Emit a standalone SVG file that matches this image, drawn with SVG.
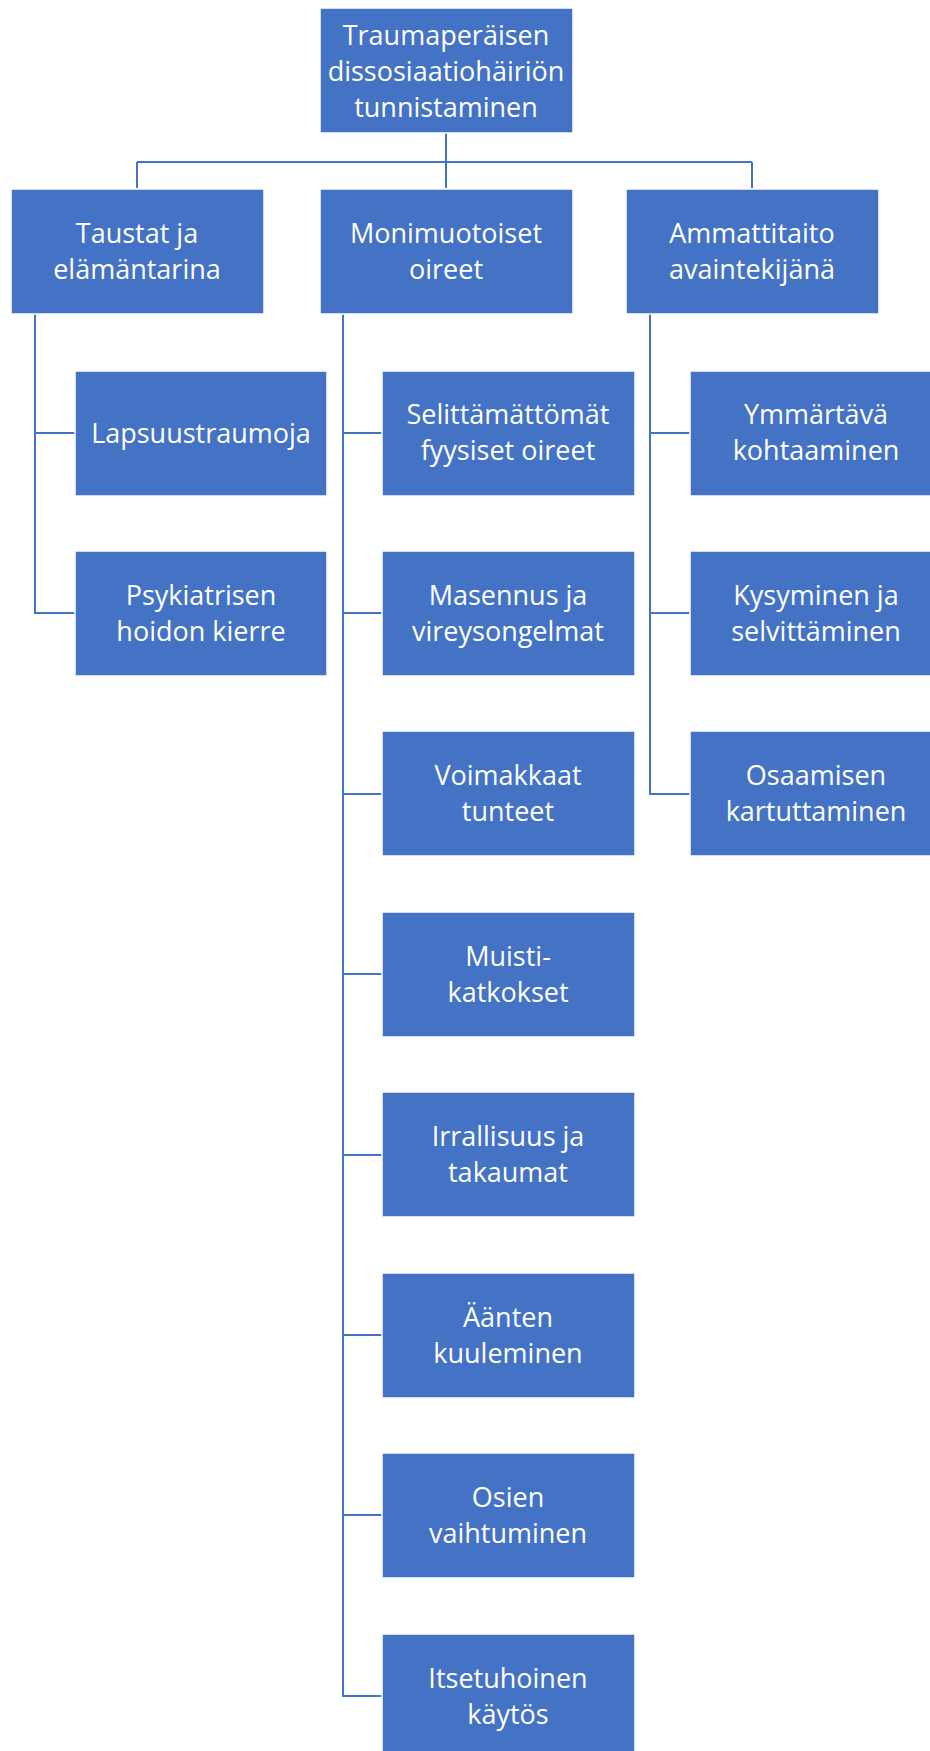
<svg xmlns="http://www.w3.org/2000/svg" width="930" height="1751" viewBox="0 0 930 1751">
<style>
.b{fill:#4472C4;stroke:#ffffff;stroke-width:1.5}
.t{font-family:"Open Sans",sans-serif;font-size:27px;fill:#ffffff;text-anchor:middle}
.c{fill:none;stroke:#4472C4;stroke-width:2}
</style>
<rect width="930" height="1751" fill="#ffffff"/>
<g id="connectors">
<path class="c" d="M446 133V188M137 162H752M137 162V188M752 162V188"/>
<path class="c" d="M35 314V613H75M35 433H75"/>
<path class="c" d="M343 314V1696H382M343 433H382M343 613H382M343 794H382M343 974H382M343 1155H382M343 1335H382M343 1515H382"/>
<path class="c" d="M650 314V794H690M650 433H690M650 613H690"/>
</g>
<g id="root"><rect class="b" x="320" y="8" width="253" height="125"/><text class="t"><tspan x="446" y="45">Traumaperäisen</tspan><tspan x="446" y="81">dissosiaatiohäiriön</tspan><tspan x="446" y="117">tunnistaminen</tspan></text></g>
<g id="taustat"><rect class="b" x="11" y="189" width="253" height="125"/><text class="t"><tspan x="137" y="243">Taustat ja</tspan><tspan x="137" y="279">elämäntarina</tspan></text></g>
<g id="monimuotoiset"><rect class="b" x="320" y="189" width="253" height="125"/><text class="t"><tspan x="446" y="243">Monimuotoiset</tspan><tspan x="446" y="279">oireet</tspan></text></g>
<g id="ammattitaito"><rect class="b" x="626" y="189" width="253" height="125"/><text class="t"><tspan x="752" y="243">Ammattitaito</tspan><tspan x="752" y="279">avaintekijänä</tspan></text></g>
<g id="lapsuus"><rect class="b" x="75" y="371" width="252" height="125"/><text class="t" x="201" y="443">Lapsuustraumoja</text></g>
<g id="psykiatrisen"><rect class="b" x="75" y="551" width="252" height="125"/><text class="t"><tspan x="201" y="605">Psykiatrisen</tspan><tspan x="201" y="641">hoidon kierre</tspan></text></g>
<g id="selittamattomat"><rect class="b" x="382" y="371" width="253" height="125"/><text class="t"><tspan x="508" y="424">Selittämättömät</tspan><tspan x="508" y="460">fyysiset oireet</tspan></text></g>
<g id="masennus"><rect class="b" x="382" y="551" width="253" height="125"/><text class="t"><tspan x="508" y="605">Masennus ja</tspan><tspan x="508" y="641">vireysongelmat</tspan></text></g>
<g id="voimakkaat"><rect class="b" x="382" y="731" width="253" height="125"/><text class="t"><tspan x="508" y="785">Voimakkaat</tspan><tspan x="508" y="821">tunteet</tspan></text></g>
<g id="muisti"><rect class="b" x="382" y="912" width="253" height="125"/><text class="t"><tspan x="508" y="966">Muisti-</tspan><tspan x="508" y="1002">katkokset</tspan></text></g>
<g id="irrallisuus"><rect class="b" x="382" y="1092" width="253" height="125"/><text class="t"><tspan x="508" y="1146">Irrallisuus ja</tspan><tspan x="508" y="1182">takaumat</tspan></text></g>
<g id="aanten"><rect class="b" x="382" y="1273" width="253" height="125"/><text class="t"><tspan x="508" y="1327">Äänten</tspan><tspan x="508" y="1363">kuuleminen</tspan></text></g>
<g id="osien"><rect class="b" x="382" y="1453" width="253" height="125"/><text class="t"><tspan x="508" y="1507">Osien</tspan><tspan x="508" y="1543">vaihtuminen</tspan></text></g>
<g id="itsetuhoinen"><rect class="b" x="382" y="1634" width="253" height="125"/><text class="t"><tspan x="508" y="1688">Itsetuhoinen</tspan><tspan x="508" y="1724">käytös</tspan></text></g>
<g id="ymmartava"><rect class="b" x="690" y="371" width="253" height="125"/><text class="t"><tspan x="816" y="424">Ymmärtävä</tspan><tspan x="816" y="460">kohtaaminen</tspan></text></g>
<g id="kysyminen"><rect class="b" x="690" y="551" width="253" height="125"/><text class="t"><tspan x="816" y="605">Kysyminen ja</tspan><tspan x="816" y="641">selvittäminen</tspan></text></g>
<g id="osaamisen"><rect class="b" x="690" y="731" width="253" height="125"/><text class="t"><tspan x="816" y="785">Osaamisen</tspan><tspan x="816" y="821">kartuttaminen</tspan></text></g>
</svg>
